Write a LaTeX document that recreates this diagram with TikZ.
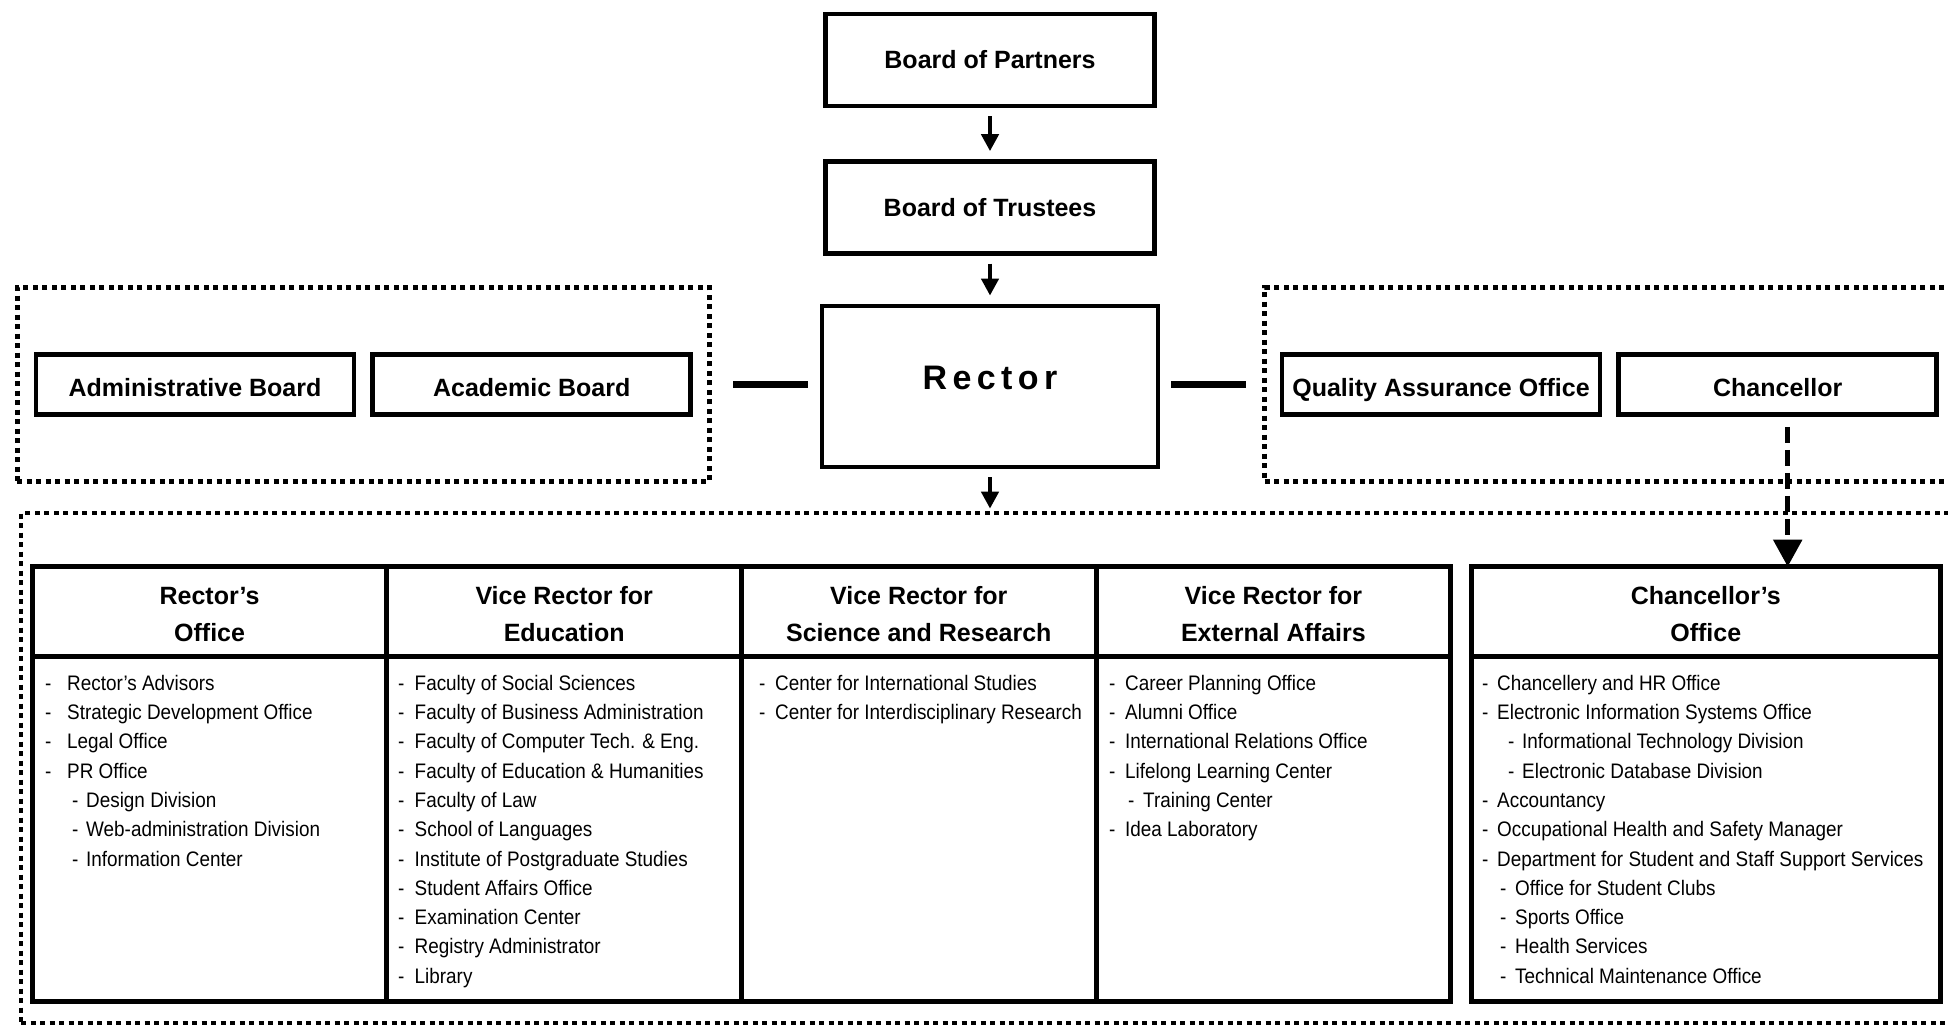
\documentclass[tikz,border=0pt]{standalone}
\usepackage{fontspec}
\setmainfont{Liberation Sans}
\newfontfamily\narrowfont[FakeStretch=0.9]{Liberation Sans}
\newfontfamily\spacedfont[LetterSpace=16]{Liberation Sans}
\usetikzlibrary{positioning}
\usetikzlibrary{fit}
\usetikzlibrary{arrows.meta}

\newcommand{\itm}[3][0pt]{\strut\hspace*{#1}\makebox[#2][l]{-}#3}
\newcommand{\hd}[2]{\rule{0pt}{23pt}#1\\#2}

\begin{document}
\begin{tikzpicture}[
                            x=1pt, y=-1pt,
                            orgbox/.style={draw, line width=4.7pt, minimum width=329pt, minimum height=91.7pt,
                                           font=\fontsize{25}{30}\selectfont\bfseries},
                            boardbox/.style={minimum width=318pt, minimum height=60pt,
                                             text height=23pt, text depth=0pt},
                            groupbox/.style={draw, line width=4.7pt, dash pattern=on 5pt off 4.5pt, inner sep=0pt},
                            headcell/.style={draw, line width=5pt, outer sep=0pt, minimum width=354.6pt,
                                             minimum height=90pt, align=center,
                                             font=\fontsize{25}{37}\selectfont\bfseries},
                            bodycell/.style={draw, line width=5pt, outer sep=0pt, minimum width=354.6pt,
                                             minimum height=344.3pt},
                            listtext/.style={anchor=north west, inner sep=0pt, align=left,
                                             font=\narrowfont\fontsize{21}{29.3}\selectfont},
                            arr/.style={-{Triangle[width=17pt,length=17pt]}, line width=4.3pt,
                                        shorten <=8pt, shorten >=8pt},
                            dasharr/.style={-{Triangle[width=28pt,length=27pt]}, line width=5.3pt,
                                            dash pattern=on 16pt off 7pt, shorten <=10pt},
                            link/.style={line width=7.5pt}
                            ]
                            \useasboundingbox (0,0) rectangle (1948,1025);

                            % top of the chart
                            \node[orgbox]                      (partners)  at (990,60) {Board of Partners};
                            \node[orgbox, below=51pt of partners] (trustees)  {Board of Trustees};
                            \node[orgbox, below=48pt of trustees, minimum width=336pt, minimum height=161pt,
                                  font=\spacedfont\fontsize{34}{40}\selectfont\bfseries, text depth=17pt] (rector) {Rector};

                            % boards and offices beside the rector
                            \node[orgbox, boardbox]                      (admin)      at (195,384.5) {Administrative Board};
                            \node[orgbox, boardbox, right=14pt of admin] (academic)   {Academic Board};
                            \node[orgbox, boardbox]                      (qao)        at (1441,384.5) {Quality Assurance Office};
                            \node[orgbox, boardbox, right=14pt of qao]   (chancellor) {Chancellor};
                            \node[groupbox, fit=(admin)(academic), inner xsep=16.5pt, inner ysep=64.5pt] (boards) {};
                            \node[groupbox, fit=(qao)(chancellor), inner xsep=15pt, inner ysep=64.5pt]   (offices) {};
                            \node[groupbox, fit={(21,513) (1965,1023)}] (staff) {};

                            % table of the rector's units
                            \node[headcell]                   (roffh) at (209.6,611.7) {\hd{Rector’s}{Office}};
                            \node[headcell, right=0pt of roffh] (eduh)  {\hd{Vice Rector for}{Education}};
                            \node[headcell, right=0pt of eduh]  (scih)  {\hd{Vice Rector for}{Science and Research}};
                            \node[headcell, right=0pt of scih]  (exth)  {\hd{Vice Rector for}{External Affairs}};
                            \node[bodycell, below=0pt of roffh] (roffb) {};
                            \node[bodycell, below=0pt of eduh]  (edub)  {};
                            \node[bodycell, below=0pt of scih]  (scib)  {};
                            \node[bodycell, below=0pt of exth]  (extb)  {};
                            \node[headcell, minimum width=468.4pt]                  (chofh) at (1705.8,611.7) {\hd{Chancellor’s}{Office}};
                            \node[bodycell, minimum width=468.4pt, below=0pt of chofh] (chofb) {};

                            \node[listtext] (rofflist) at (45,669.5) {
                                \itm{22pt}{Rector’s Advisors}\\
                                \itm{22pt}{Strategic Development Office}\\
                                \itm{22pt}{Legal Office}\\
                                \itm{22pt}{PR Office}\\
                                \itm[27pt]{14pt}{Design Division}\\
                                \itm[27pt]{14pt}{Web-administration Division}\\
                                \itm[27pt]{14pt}{Information Center}};
                            \node[listtext] (edulist) at (398,669.5) {
                                \itm{16.5pt}{Faculty of Social Sciences}\\
                                \itm{16.5pt}{Faculty of Business Administration}\\
                                \itm{16.5pt}{Faculty of Computer Tech. \& Eng.}\\
                                \itm{16.5pt}{Faculty of Education \& Humanities}\\
                                \itm{16.5pt}{Faculty of Law}\\
                                \itm{16.5pt}{School of Languages}\\
                                \itm{16.5pt}{Institute of Postgraduate Studies}\\
                                \itm{16.5pt}{Student Affairs Office}\\
                                \itm{16.5pt}{Examination Center}\\
                                \itm{16.5pt}{Registry Administrator}\\
                                \itm{16.5pt}{Library}};
                            \node[listtext] (scilist) at (759,669.5) {
                                \itm{16pt}{Center for International Studies}\\
                                \itm{16pt}{Center for Interdisciplinary Research}};
                            \node[listtext] (extlist) at (1109,669.5) {
                                \itm{16pt}{Career Planning Office}\\
                                \itm{16pt}{Alumni Office}\\
                                \itm{16pt}{International Relations Office}\\
                                \itm{16pt}{Lifelong Learning Center}\\
                                \itm[19pt]{15pt}{Training Center}\\
                                \itm{16pt}{Idea Laboratory}};
                            \node[listtext] (choflist) at (1482,669.5) {
                                \itm{15pt}{Chancellery and HR Office}\\
                                \itm{15pt}{Electronic Information Systems Office}\\
                                \itm[26pt]{14pt}{Informational Technology Division}\\
                                \itm[26pt]{14pt}{Electronic Database Division}\\
                                \itm{15pt}{Accountancy}\\
                                \itm{15pt}{Occupational Health and Safety Manager}\\
                                \itm{15pt}{Department for Student and Staff Support Services}\\
                                \itm[18pt]{15pt}{Office for Student Clubs}\\
                                \itm[18pt]{15pt}{Sports Office}\\
                                \itm[18pt]{15pt}{Health Services}\\
                                \itm[18pt]{15pt}{Technical Maintenance Office}};

                            % connectors
                            \draw[arr] (partners) -- (trustees);
                            \draw[arr] (trustees) -- (rector);
                            \draw[arr, shorten >=2pt] (rector) -- (rector |- staff.north);
                            \draw[link, shorten <=12pt, shorten >=21pt] (rector.west |- admin) -- (boards.east |- admin);
                            \draw[link, shorten <=11pt, shorten >=16pt] (rector.east |- qao) -- (offices.west |- qao);
                            \coordinate (chdrop) at ([xshift=10pt]chancellor.south);
                            \draw[dasharr] (chdrop) -- (chdrop |- chofh.north);
                        \end{tikzpicture}
\end{document}
